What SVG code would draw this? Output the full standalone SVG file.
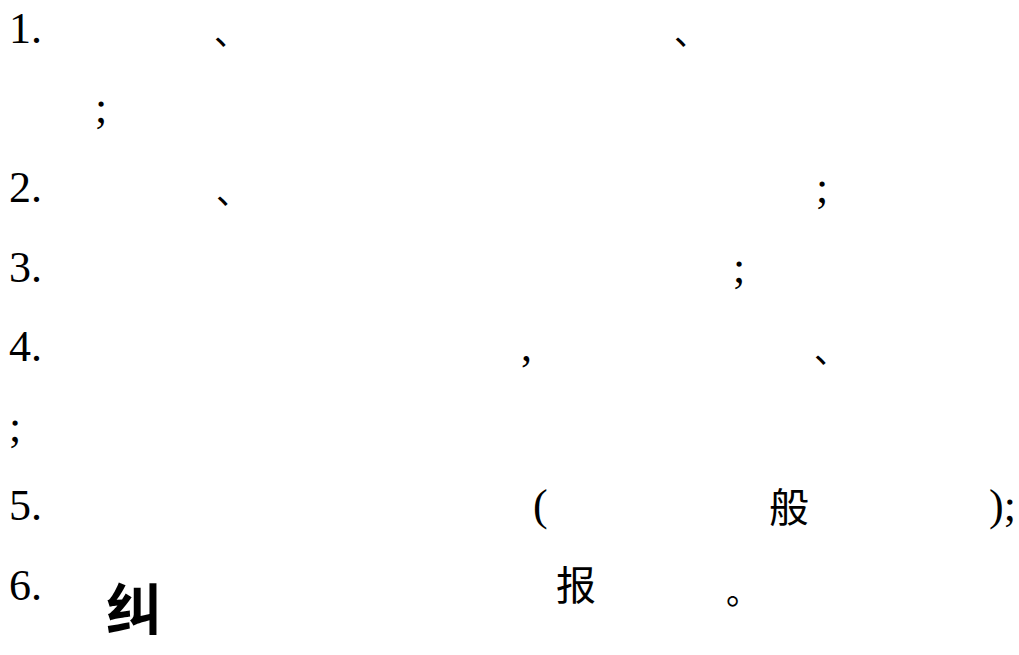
<svg xmlns="http://www.w3.org/2000/svg" width="1019" height="655" viewBox="0 0 1019 655">
<style>
.l{font-family:"Liberation Serif","Times New Roman",serif;font-size:44px;fill:#000}
.c{font-family:"Noto Sans CJK SC","Noto Sans CJK TC",sans-serif;font-size:40px;fill:#000}
.p{font-family:"Noto Sans CJK SC","Noto Sans CJK TC",sans-serif;font-size:34px;fill:#000}
</style>
<rect width="1019" height="655" fill="#fff"/>
<g id="item1">
<text class="l" x="9" y="43">1.</text>
<text class="p" x="214" y="45">、</text>
<text class="p" x="674" y="45">、</text>
<text class="l" x="95" y="122">;</text>
</g>
<g id="item2">
<text class="l" x="9" y="202">2.</text>
<text class="p" x="216" y="204">、</text>
<text class="l" x="816" y="202">;</text>
</g>
<g id="item3">
<text class="l" x="9" y="282">3.</text>
<text class="l" x="733" y="282">;</text>
</g>
<g id="item4">
<text class="l" x="9" y="361">4.</text>
<text class="l" x="521" y="361">,</text>
<text class="p" x="814" y="363">、</text>
<text class="l" x="9" y="441">;</text>
</g>
<g id="item5">
<text class="l" x="9" y="520">5.</text>
<text class="l" x="533" y="520">(</text>
<text class="c" x="769" y="522">般</text>
<text class="l" x="989" y="520">);</text>
</g>
<g id="item6">
<text class="l" x="9" y="600">6.</text>
<text class="c" x="106" y="630" style="font-size:56px;font-weight:bold">纠</text>
<text class="c" x="556" y="600">报</text>
<text class="p" x="726" y="604">。</text>
</g>
</svg>
